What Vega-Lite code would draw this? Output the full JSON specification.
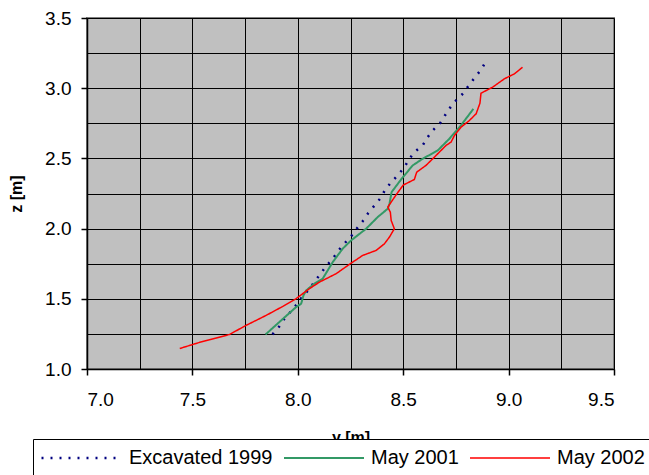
{
  "$schema": "https://vega.github.io/schema/vega-lite/v6.json",
  "width": 527,
  "height": 351,
  "autosize": "none",
  "padding": {"left": 87, "top": 18, "right": 35, "bottom": 106},
  "background": "white",
  "data": {"values": [
    {"series":"Excavated 1999","i":1,"y_m":7.88,"z_m":1.247},
    {"series":"Excavated 1999","i":2,"y_m":7.913,"z_m":1.304},
    {"series":"Excavated 1999","i":3,"y_m":7.937,"z_m":1.359},
    {"series":"Excavated 1999","i":4,"y_m":7.969,"z_m":1.413},
    {"series":"Excavated 1999","i":5,"y_m":7.995,"z_m":1.46},
    {"series":"Excavated 1999","i":6,"y_m":8.024,"z_m":1.52},
    {"series":"Excavated 1999","i":7,"y_m":8.052,"z_m":1.565},
    {"series":"Excavated 1999","i":8,"y_m":8.084,"z_m":1.631},
    {"series":"Excavated 1999","i":9,"y_m":8.106,"z_m":1.674},
    {"series":"Excavated 1999","i":10,"y_m":8.131,"z_m":1.726},
    {"series":"Excavated 1999","i":11,"y_m":8.166,"z_m":1.786},
    {"series":"Excavated 1999","i":12,"y_m":8.194,"z_m":1.845},
    {"series":"Excavated 1999","i":13,"y_m":8.217,"z_m":1.888},
    {"series":"Excavated 1999","i":14,"y_m":8.25,"z_m":1.94},
    {"series":"Excavated 1999","i":15,"y_m":8.28,"z_m":2.0},
    {"series":"Excavated 1999","i":16,"y_m":8.308,"z_m":2.053},
    {"series":"Excavated 1999","i":17,"y_m":8.332,"z_m":2.106},
    {"series":"Excavated 1999","i":18,"y_m":8.364,"z_m":2.165},
    {"series":"Excavated 1999","i":19,"y_m":8.395,"z_m":2.222},
    {"series":"Excavated 1999","i":20,"y_m":8.411,"z_m":2.267},
    {"series":"Excavated 1999","i":21,"y_m":8.443,"z_m":2.331},
    {"series":"Excavated 1999","i":22,"y_m":8.474,"z_m":2.379},
    {"series":"Excavated 1999","i":23,"y_m":8.506,"z_m":2.438},
    {"series":"Excavated 1999","i":24,"y_m":8.526,"z_m":2.49},
    {"series":"Excavated 1999","i":25,"y_m":8.553,"z_m":2.545},
    {"series":"Excavated 1999","i":26,"y_m":8.592,"z_m":2.592},
    {"series":"Excavated 1999","i":27,"y_m":8.616,"z_m":2.651},
    {"series":"Excavated 1999","i":28,"y_m":8.64,"z_m":2.699},
    {"series":"Excavated 1999","i":29,"y_m":8.675,"z_m":2.751},
    {"series":"Excavated 1999","i":30,"y_m":8.698,"z_m":2.806},
    {"series":"Excavated 1999","i":31,"y_m":8.722,"z_m":2.86},
    {"series":"Excavated 1999","i":32,"y_m":8.753,"z_m":2.917},
    {"series":"Excavated 1999","i":33,"y_m":8.785,"z_m":2.964},
    {"series":"Excavated 1999","i":34,"y_m":8.814,"z_m":3.026},
    {"series":"Excavated 1999","i":35,"y_m":8.841,"z_m":3.078},
    {"series":"Excavated 1999","i":36,"y_m":8.869,"z_m":3.131},
    {"series":"Excavated 1999","i":37,"y_m":8.89,"z_m":3.185},
    {"series":"May 2001","i":1,"y_m":7.847,"z_m":1.246},
    {"series":"May 2001","i":2,"y_m":7.913,"z_m":1.335},
    {"series":"May 2001","i":3,"y_m":7.992,"z_m":1.441},
    {"series":"May 2001","i":4,"y_m":8.016,"z_m":1.465},
    {"series":"May 2001","i":5,"y_m":8.027,"z_m":1.525},
    {"series":"May 2001","i":6,"y_m":8.04,"z_m":1.56},
    {"series":"May 2001","i":7,"y_m":8.079,"z_m":1.608},
    {"series":"May 2001","i":8,"y_m":8.118,"z_m":1.643},
    {"series":"May 2001","i":9,"y_m":8.166,"z_m":1.762},
    {"series":"May 2001","i":10,"y_m":8.213,"z_m":1.857},
    {"series":"May 2001","i":11,"y_m":8.253,"z_m":1.916},
    {"series":"May 2001","i":12,"y_m":8.324,"z_m":1.999},
    {"series":"May 2001","i":13,"y_m":8.379,"z_m":2.082},
    {"series":"May 2001","i":14,"y_m":8.427,"z_m":2.142},
    {"series":"May 2001","i":15,"y_m":8.435,"z_m":2.177},
    {"series":"May 2001","i":16,"y_m":8.445,"z_m":2.26},
    {"series":"May 2001","i":17,"y_m":8.49,"z_m":2.35},
    {"series":"May 2001","i":18,"y_m":8.545,"z_m":2.45},
    {"series":"May 2001","i":19,"y_m":8.592,"z_m":2.497},
    {"series":"May 2001","i":20,"y_m":8.664,"z_m":2.557},
    {"series":"May 2001","i":21,"y_m":8.719,"z_m":2.64},
    {"series":"May 2001","i":22,"y_m":8.774,"z_m":2.735},
    {"series":"May 2001","i":23,"y_m":8.833,"z_m":2.853},
    {"series":"May 2002","i":1,"y_m":7.44,"z_m":1.146},
    {"series":"May 2002","i":2,"y_m":7.535,"z_m":1.19},
    {"series":"May 2002","i":3,"y_m":7.676,"z_m":1.246},
    {"series":"May 2002","i":4,"y_m":7.755,"z_m":1.311},
    {"series":"May 2002","i":5,"y_m":7.85,"z_m":1.382},
    {"series":"May 2002","i":6,"y_m":7.929,"z_m":1.446},
    {"series":"May 2002","i":7,"y_m":7.992,"z_m":1.501},
    {"series":"May 2002","i":8,"y_m":8.055,"z_m":1.572},
    {"series":"May 2002","i":9,"y_m":8.103,"z_m":1.619},
    {"series":"May 2002","i":10,"y_m":8.182,"z_m":1.679},
    {"series":"May 2002","i":11,"y_m":8.253,"z_m":1.754},
    {"series":"May 2002","i":12,"y_m":8.308,"z_m":1.809},
    {"series":"May 2002","i":13,"y_m":8.372,"z_m":1.845},
    {"series":"May 2002","i":14,"y_m":8.411,"z_m":1.892},
    {"series":"May 2002","i":15,"y_m":8.435,"z_m":1.94},
    {"series":"May 2002","i":16,"y_m":8.458,"z_m":1.999},
    {"series":"May 2002","i":17,"y_m":8.443,"z_m":2.058},
    {"series":"May 2002","i":18,"y_m":8.439,"z_m":2.117},
    {"series":"May 2002","i":19,"y_m":8.427,"z_m":2.153},
    {"series":"May 2002","i":20,"y_m":8.443,"z_m":2.189},
    {"series":"May 2002","i":21,"y_m":8.47,"z_m":2.248},
    {"series":"May 2002","i":22,"y_m":8.5,"z_m":2.31},
    {"series":"May 2002","i":23,"y_m":8.553,"z_m":2.35},
    {"series":"May 2002","i":24,"y_m":8.564,"z_m":2.402},
    {"series":"May 2002","i":25,"y_m":8.608,"z_m":2.45},
    {"series":"May 2002","i":26,"y_m":8.648,"z_m":2.509},
    {"series":"May 2002","i":27,"y_m":8.703,"z_m":2.592},
    {"series":"May 2002","i":28,"y_m":8.727,"z_m":2.616},
    {"series":"May 2002","i":29,"y_m":8.743,"z_m":2.663},
    {"series":"May 2002","i":30,"y_m":8.774,"z_m":2.722},
    {"series":"May 2002","i":31,"y_m":8.814,"z_m":2.77},
    {"series":"May 2002","i":32,"y_m":8.846,"z_m":2.818},
    {"series":"May 2002","i":33,"y_m":8.864,"z_m":2.893},
    {"series":"May 2002","i":34,"y_m":8.869,"z_m":2.964},
    {"series":"May 2002","i":35,"y_m":8.924,"z_m":3.007},
    {"series":"May 2002","i":36,"y_m":8.98,"z_m":3.067},
    {"series":"May 2002","i":37,"y_m":9.027,"z_m":3.102},
    {"series":"May 2002","i":38,"y_m":9.066,"z_m":3.149}
  ]},
  "mark": {"type": "line"},
  "encoding": {
    "x": {
      "field": "y_m", "type": "quantitative",
      "scale": {"domain": [7, 9.5], "nice": false, "zero": false},
      "axis": {
        "title": "y [m]",
        "values": [7, 7.25, 7.5, 7.75, 8, 8.25, 8.5, 8.75, 9, 9.25, 9.5],
        "labelExpr": "round(datum.value*4) % 2 == 0 ? format(datum.value, '.1f') : ''",
        "tickOpacity": {"condition": {"test": "round(datum.value*4) % 2 == 1", "value": 0}, "value": 1},
        "labelPadding": 15,
        "titlePadding": 20
      }
    },
    "y": {
      "field": "z_m", "type": "quantitative",
      "scale": {"domain": [1, 3.5], "nice": false, "zero": false},
      "axis": {
        "title": "z [m]",
        "values": [1, 1.25, 1.5, 1.75, 2, 2.25, 2.5, 2.75, 3, 3.25, 3.5],
        "labelExpr": "round(datum.value*4) % 2 == 0 ? format(datum.value, '.1f') : ''",
        "tickOpacity": {"condition": {"test": "round(datum.value*4) % 2 == 1", "value": 0}, "value": 1},
        "labelPadding": 10,
        "titlePadding": 20
      }
    },
    "color": {
      "field": "series", "type": "nominal",
      "scale": {"domain": ["Excavated 1999", "May 2001", "May 2002"], "range": ["#000080", "#339966", "#FF0000"]},
      "legend": {
        "title": null,
        "orient": "none",
        "legendX": -54,
        "legendY": 421,
        "direction": "horizontal",
        "fillColor": "white",
        "strokeColor": "black",
        "padding": 7,
        "symbolType": "stroke",
        "symbolSize": 6400,
        "symbolStrokeWidth": 1.5,
        "clipHeight": 24,
        "labelFontSize": 20,
        "labelFont": "Liberation Sans",
        "labelColor": "black",
        "labelOffset": 6,
        "columnPadding": 10
      }
    },
    "strokeDash": {
      "field": "series", "type": "nominal",
      "scale": {"domain": ["Excavated 1999", "May 2001", "May 2002"], "range": [[2, 7], [1, 0], [1, 0]]},
      "legend": {
        "title": null,
        "orient": "none",
        "legendX": -54,
        "legendY": 421,
        "direction": "horizontal",
        "fillColor": "white",
        "strokeColor": "black",
        "padding": 7,
        "symbolType": "stroke",
        "symbolSize": 6400,
        "symbolStrokeWidth": 1.5,
        "clipHeight": 24,
        "labelFontSize": 20,
        "labelFont": "Liberation Sans",
        "labelColor": "black",
        "labelOffset": 6,
        "columnPadding": 10
      }
    },
    "strokeWidth": {
      "field": "series", "type": "nominal",
      "scale": {"domain": ["Excavated 1999", "May 2001", "May 2002"], "range": [2.5, 1.5, 1.5]},
      "legend": null
    },
    "order": {"field": "i", "type": "quantitative"}
  },
  "config": {
    "view": {"fill": "#C0C0C0", "stroke": "#808080", "strokeWidth": 2},
    "axis": {
      "grid": true,
      "gridColor": "black",
      "gridOpacity": 1,
      "gridWidth": 1,
      "domainColor": "black",
      "domainWidth": 1.5,
      "tickColor": "black",
      "tickSize": 6,
      "tickWidth": 1.5,
      "labelFont": "Liberation Sans",
      "labelFontSize": 19,
      "labelColor": "black",
      "titleFont": "Liberation Sans",
      "titleFontSize": 16,
      "titleFontWeight": "bold",
      "titleColor": "black"
    }
  }
}
